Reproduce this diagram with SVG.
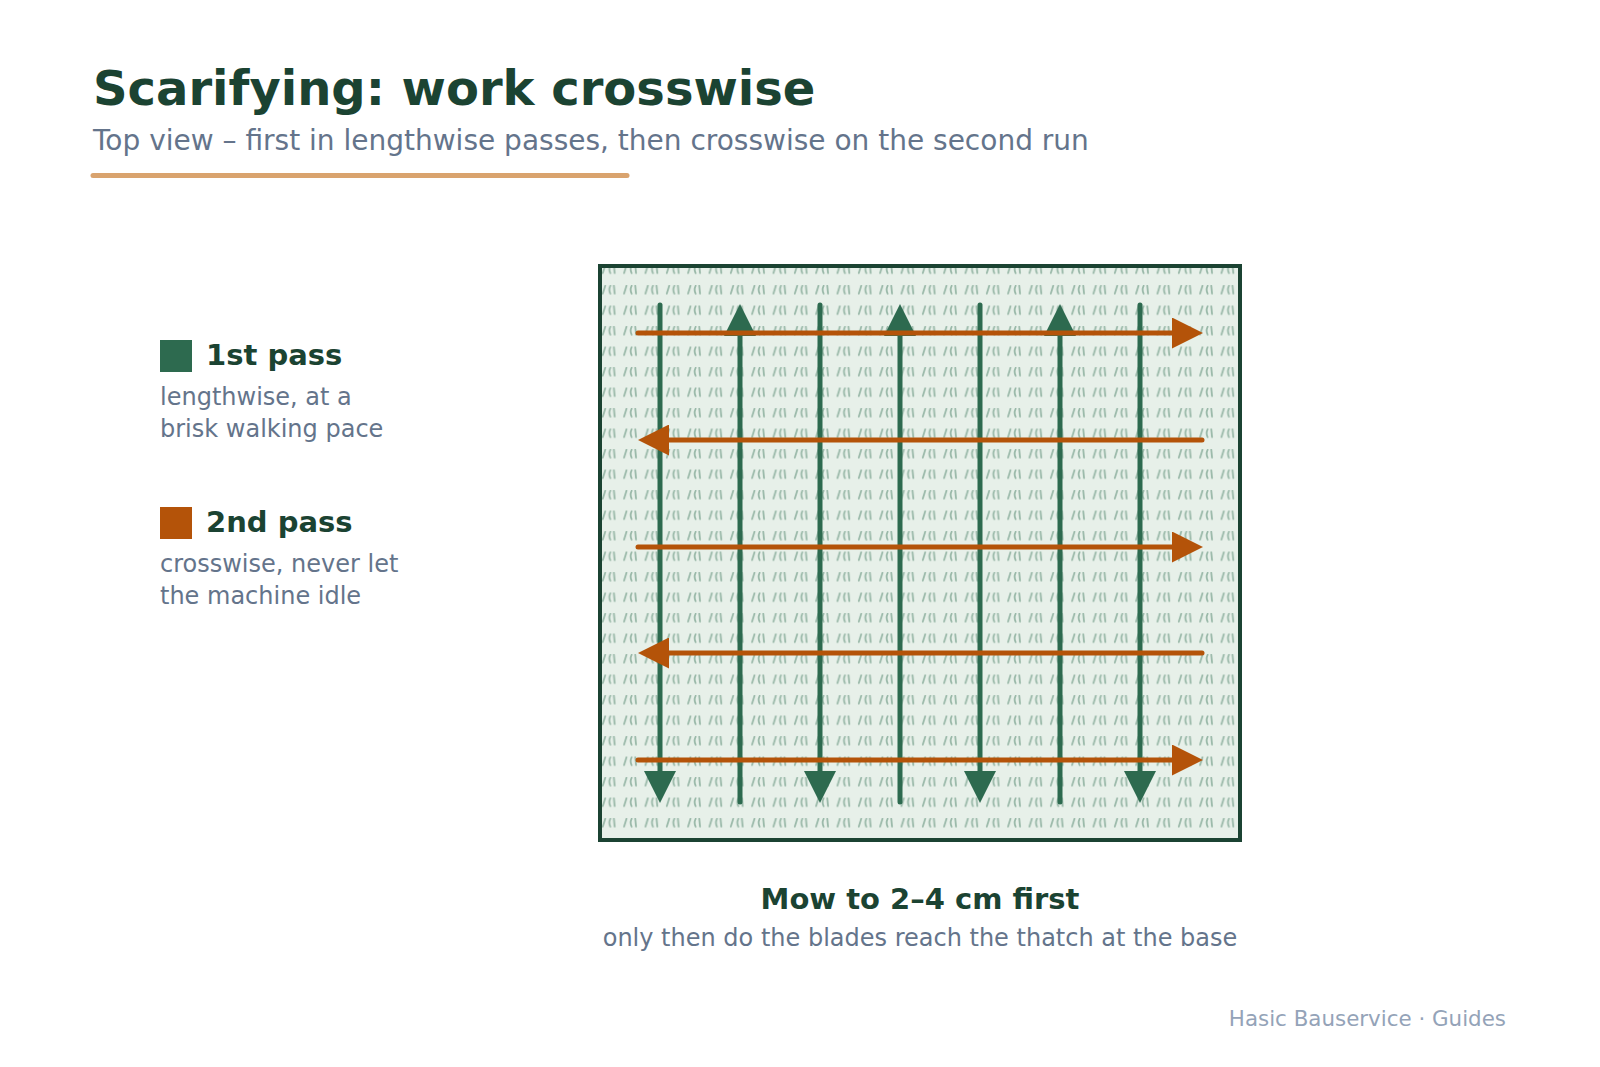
<svg xmlns="http://www.w3.org/2000/svg" width="1600" height="1067" viewBox="0 0 1600 1067">
<style>
text{font-family:"DejaVu Sans","Liberation Sans",sans-serif}
.title{font-size:48px;font-weight:bold;fill:#1b4332}
.sub{font-size:28px;fill:#64748b}
.lh{font-size:29px;font-weight:bold;fill:#1b4332}
.ld{font-size:24px;fill:#64748b}
.foot{font-size:21.4px;fill:#94a3b8}
.p1{stroke:#2d6a4f;stroke-width:5;stroke-linecap:round;fill:none}
.p2{stroke:#b45309;stroke-width:5;stroke-linecap:round;fill:none}
.g{stroke:#2d6a4f;stroke-opacity:0.42;stroke-width:1.8;stroke-linecap:round;fill:none}
</style>
<defs>
<pattern id="grass" patternUnits="userSpaceOnUse" x="600" y="264.5" width="21.3333" height="20.5">
<path class="g" d="M2.8,8.6 L5.2,0.8 M10.3,0.8 Q8.3,4.7 10.3,8.6 M13.9,0.8 L14.7,8.6"/>
</pattern>
<marker id="ah1" markerUnits="userSpaceOnUse" markerWidth="32" markerHeight="32" viewBox="0 0 32 32" refX="12" refY="16" orient="auto">
<path d="M0,0 L32,16 L0,32 Z" fill="#2d6a4f"/>
</marker>
<marker id="ah2" markerUnits="userSpaceOnUse" markerWidth="31" markerHeight="31" viewBox="0 0 31 31" refX="11" refY="15.5" orient="auto">
<path d="M0,0 L31,15.5 L0,31 Z" fill="#b45309"/>
</marker>
</defs>
<rect width="1600" height="1067" fill="#ffffff"/>
<g id="header">
<text class="title" x="93" y="105">Scarifying: work crosswise</text>
<text class="sub" x="93" y="150">Top view – first in lengthwise passes, then crosswise on the second run</text>
<line x1="93" y1="175.5" x2="627" y2="175.5" stroke="#d9a36e" stroke-width="5" stroke-linecap="round"/>
</g>
<g id="legend-pass1">
<rect x="160" y="340" width="32" height="32" fill="#2d6a4f"/>
<text class="lh" x="206" y="365">1st pass</text>
<text class="ld" x="160" y="405">lengthwise, at a</text>
<text class="ld" x="160" y="437">brisk walking pace</text>
</g>
<g id="legend-pass2">
<rect x="160" y="507" width="32" height="32" fill="#b45309"/>
<text class="lh" x="206" y="532">2nd pass</text>
<text class="ld" x="160" y="572">crosswise, never let</text>
<text class="ld" x="160" y="604">the machine idle</text>
</g>
<g id="lawn">
<rect x="600" y="266" width="640" height="574" fill="#e7f0e9"/>
<rect x="600" y="266" width="640" height="574" fill="url(#grass)"/>
<rect x="600" y="266" width="640" height="574" fill="none" stroke="#1b4332" stroke-width="4"/>
</g>
<g id="connectors">
<g id="first-pass">
<line class="p1" x1="660" y1="305" x2="660" y2="783" marker-end="url(#ah1)"/>
<line class="p1" x1="740" y1="802" x2="740" y2="324" marker-end="url(#ah1)"/>
<line class="p1" x1="820" y1="305" x2="820" y2="783" marker-end="url(#ah1)"/>
<line class="p1" x1="900" y1="802" x2="900" y2="324" marker-end="url(#ah1)"/>
<line class="p1" x1="980" y1="305" x2="980" y2="783" marker-end="url(#ah1)"/>
<line class="p1" x1="1060" y1="802" x2="1060" y2="324" marker-end="url(#ah1)"/>
<line class="p1" x1="1140" y1="305" x2="1140" y2="783" marker-end="url(#ah1)"/>
</g>
<g id="second-pass">
<line class="p2" x1="638" y1="333" x2="1183" y2="333" marker-end="url(#ah2)"/>
<line class="p2" x1="1202" y1="440" x2="658" y2="440" marker-end="url(#ah2)"/>
<line class="p2" x1="638" y1="547" x2="1183" y2="547" marker-end="url(#ah2)"/>
<line class="p2" x1="1202" y1="653" x2="658" y2="653" marker-end="url(#ah2)"/>
<line class="p2" x1="638" y1="760" x2="1183" y2="760" marker-end="url(#ah2)"/>
</g>
</g>
<g id="note">
<text class="lh" x="920" y="909" text-anchor="middle">Mow to 2–4 cm first</text>
<text class="ld" x="920" y="946" text-anchor="middle">only then do the blades reach the thatch at the base</text>
</g>
<g id="footer">
<text class="foot" x="1506" y="1026" text-anchor="end">Hasic Bauservice · Guides</text>
</g>
</svg>
